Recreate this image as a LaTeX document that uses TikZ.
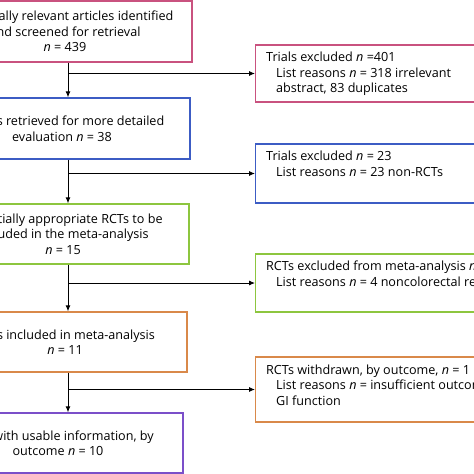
\documentclass[tikz,border=0pt]{standalone}
\usepackage{fontspec}
\setmainfont{Open Sans}
\usetikzlibrary{arrows.meta}
\definecolor{cpink}{HTML}{C9527F}
\definecolor{cblue}{HTML}{3C5CC4}
\definecolor{cgreen}{HTML}{8DC63F}
\definecolor{corange}{HTML}{D9894A}
\definecolor{cpurple}{HTML}{7B4FC9}
\newcommand{\fsz}{\fontsize{12.6}{15.5}\selectfont}
\begin{document}
\begin{tikzpicture}[x=1pt,y=-1pt,
  lbox/.style={draw=#1, line width=1.4pt, align=center, font=\fsz, inner sep=0pt},
  rbox/.style={draw=#1, line width=1.4pt, inner sep=0pt, minimum width=270pt, anchor=west},
  rtext/.style={align=left, font=\fsz, inner sep=0pt, anchor=north west},
  conn/.style={draw=black, line width=0.9pt},
  arr/.style={conn, -{Latex[length=6pt,width=5pt]}}
]
\useasboundingbox (0,0) rectangle (474,474);
\clip (0,0) rectangle (474,474);
\fill[white] (0,0) rectangle (474,474);

\coordinate (sp) at (68,0);

% left boxes
\node[lbox=cpink, minimum width=254pt, minimum height=61pt] (b1) at (65,31.5)
  {Potentially relevant articles identified\\and screened for retrieval\\\textit{n} = 439};
\node[lbox=cblue, minimum width=256pt, minimum height=61pt] (b2) at (62,128.5)
  {Studies retrieved for more detailed\\evaluation \textit{n} = 38};
\node[lbox=cgreen, minimum width=252pt, minimum height=60pt] (b3) at (63,234)
  {Potentially appropriate RCTs to be\\included in the meta-analysis\\\textit{n} = 15};
\node[lbox=corange, minimum width=244pt, minimum height=60pt] (b4) at (65,342)
  {RCTs included in meta-analysis\\\textit{n} = 11};
\node[lbox=cpurple, minimum width=250pt, minimum height=60pt] (b5) at (58,443)
  {RCTs with usable information, by\\outcome \textit{n} = 10};

% right boxes
\node[rbox=cpink, minimum height=57pt] (r1) at (255,73.5) {};
\node[rbox=cblue, minimum height=59pt] (r2) at (255,173.5) {};
\node[rbox=cgreen, minimum height=58pt] (r3) at (255,283) {};
\node[rbox=corange, minimum height=65pt] (r4) at (255,389.5) {};

\node[rtext] (t1) at ([xshift=11pt,yshift=-7.5pt]r1.north west)
  {Trials excluded \textit{n} =401\\\hspace*{10pt}List reasons \textit{n} = 318 irrelevant\\\hspace*{10pt}abstract, 83 duplicates};
\node[rtext] (t2) at ([xshift=11pt,yshift=-7.5pt]r2.north west)
  {Trials excluded \textit{n} = 23\\\hspace*{10pt}List reasons \textit{n} = 23 non-RCTs};
\node[rtext] (t3) at ([xshift=11pt,yshift=-7.5pt]r3.north west)
  {RCTs excluded from meta-analysis \textit{n} = 4\\\hspace*{10pt}List reasons \textit{n} = 4 noncolorectal resection};
\node[rtext] (t4) at ([xshift=11pt,yshift=-8pt]r4.north west)
  {RCTs withdrawn, by outcome, \textit{n} = 1\\\hspace*{10pt}List reasons \textit{n} = insufficient outcome\\\hspace*{10pt}GI function};

% connectors
\draw[arr] (b1.south -| sp) -- (b2.north -| sp);
\draw[arr] (b2.south -| sp) -- (b3.north -| sp);
\draw[arr] (b3.south -| sp) -- (b4.north -| sp);
\draw[arr] (b4.south -| sp) -- (b5.north -| sp);
\draw[arr] (r1.west -| sp) -- (r1.west);
\draw[arr] (r2.west -| sp) -- (r2.west);
\draw[arr] (r3.west -| sp) -- (r3.west);
\draw[arr] (r4.west -| sp) -- (r4.west);
\end{tikzpicture}
\end{document}
